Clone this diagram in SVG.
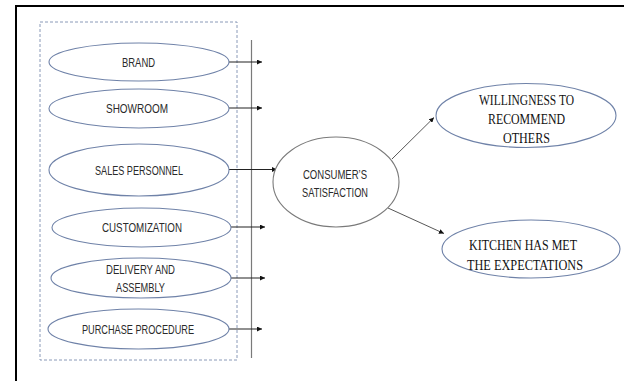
<svg xmlns="http://www.w3.org/2000/svg" width="624" height="381" viewBox="0 0 624 381">
  <defs>
    <marker id="head" viewBox="0 0 8 8" refX="8" refY="4" markerWidth="5" markerHeight="5" orient="auto" markerUnits="userSpaceOnUse">
      <path d="M0,0 L8,4 L0,8 Z" fill="#111"/>
    </marker>
    <style>
      .frame { fill: none; stroke: #000; stroke-width: 2; }
      .group { fill: none; stroke: #8a9ab8; stroke-width: 1; stroke-dasharray: 3 2; }
      .bar { stroke: #7a7a7a; stroke-width: 1.2; }
      .factor { fill: #fff; stroke: #6f82a8; stroke-width: 1.1; }
      .core { fill: #fff; stroke: #7a7a7a; stroke-width: 1.1; }
      .outcome { fill: #fff; stroke: #6f82a8; stroke-width: 1.1; }
      .link { fill: none; stroke: #222; stroke-width: 1.1; marker-end: url(#head); }
      .link2 { fill: none; stroke: #444; stroke-width: 0.9; marker-end: url(#head); }
      .sans { font-family: "Liberation Sans", Arial, sans-serif; font-size: 13.5px; fill: #2a2a2a; }
      .serif { font-family: "Liberation Serif", "Times New Roman", serif; font-size: 15px; fill: #111; }
    </style>
  </defs>

  <rect width="624" height="381" fill="#fff"/>

  <!-- outer frame: top and left edges -->
  <path class="frame" d="M16,381 V6 H624"/>

  <!-- dashed box around the factors -->
  <rect class="group" x="40" y="22" width="197" height="338"/>

  <!-- vertical collector line -->
  <line class="bar" x1="251.5" y1="40" x2="251.5" y2="358"/>

  <g id="connectors">
    <line class="link" x1="229" y1="62" x2="262" y2="62"/>
    <line class="link" x1="229" y1="108" x2="262" y2="108"/>
    <line class="link" x1="229" y1="169.5" x2="277" y2="169.5"/>
    <line class="link" x1="231" y1="227" x2="265" y2="227"/>
    <line class="link" x1="231" y1="278" x2="265" y2="278"/>
    <line class="link" x1="229" y1="329" x2="262" y2="329"/>
    <line class="link2" x1="392" y1="159" x2="434" y2="117.5"/>
    <line class="link2" x1="388" y1="208" x2="444" y2="233.5"/>
  </g>

  <g id="brand">
    <ellipse class="factor" cx="139" cy="62" rx="90" ry="19"/>
    <text class="sans" x="138.5" y="67" text-anchor="middle" textLength="33" lengthAdjust="spacingAndGlyphs">BRAND</text>
  </g>

  <g id="showroom">
    <ellipse class="factor" cx="139" cy="108.5" rx="90" ry="19.5"/>
    <text class="sans" x="137" y="113" text-anchor="middle" textLength="62" lengthAdjust="spacingAndGlyphs">SHOWROOM</text>
  </g>

  <g id="sales-personnel">
    <ellipse class="factor" cx="139" cy="170" rx="90" ry="26"/>
    <text class="sans" x="139" y="175" text-anchor="middle" textLength="88" lengthAdjust="spacingAndGlyphs">SALES PERSONNEL</text>
  </g>

  <g id="customization">
    <ellipse class="factor" cx="141.5" cy="227.5" rx="89.5" ry="19.5"/>
    <text class="sans" x="142" y="232" text-anchor="middle" textLength="80" lengthAdjust="spacingAndGlyphs">CUSTOMIZATION</text>
  </g>

  <g id="delivery-assembly">
    <ellipse class="factor" cx="141" cy="278" rx="90" ry="20"/>
    <text class="sans" x="140.5" y="274" text-anchor="middle" textLength="69" lengthAdjust="spacingAndGlyphs">DELIVERY AND</text>
    <text class="sans" x="140.5" y="292" text-anchor="middle" textLength="49" lengthAdjust="spacingAndGlyphs">ASSEMBLY</text>
  </g>

  <g id="purchase-procedure">
    <ellipse class="factor" cx="138.5" cy="329" rx="90.5" ry="20"/>
    <text class="sans" x="138" y="334" text-anchor="middle" textLength="112" lengthAdjust="spacingAndGlyphs">PURCHASE PROCEDURE</text>
  </g>

  <g id="consumer-satisfaction">
    <ellipse class="core" cx="336" cy="182" rx="63" ry="45"/>
    <text class="sans" x="335" y="179" text-anchor="middle" textLength="64" lengthAdjust="spacingAndGlyphs">CONSUMER’S</text>
    <text class="sans" x="335" y="197" text-anchor="middle" textLength="66" lengthAdjust="spacingAndGlyphs">SATISFACTION</text>
  </g>

  <g id="willingness">
    <ellipse class="outcome" cx="526" cy="115.5" rx="90" ry="32"/>
    <text class="serif" x="526.5" y="105" text-anchor="middle" textLength="95" lengthAdjust="spacingAndGlyphs">WILLINGNESS TO</text>
    <text class="serif" x="526.5" y="124" text-anchor="middle" textLength="77" lengthAdjust="spacingAndGlyphs">RECOMMEND</text>
    <text class="serif" x="526.5" y="143" text-anchor="middle" textLength="47" lengthAdjust="spacingAndGlyphs">OTHERS</text>
  </g>

  <g id="kitchen-expectations">
    <ellipse class="outcome" cx="531" cy="249" rx="89" ry="29"/>
    <text class="serif" x="523" y="250" text-anchor="middle" textLength="108" lengthAdjust="spacingAndGlyphs">KITCHEN HAS MET</text>
    <text class="serif" x="525" y="270" text-anchor="middle" textLength="116" lengthAdjust="spacingAndGlyphs">THE EXPECTATIONS</text>
  </g>
</svg>
